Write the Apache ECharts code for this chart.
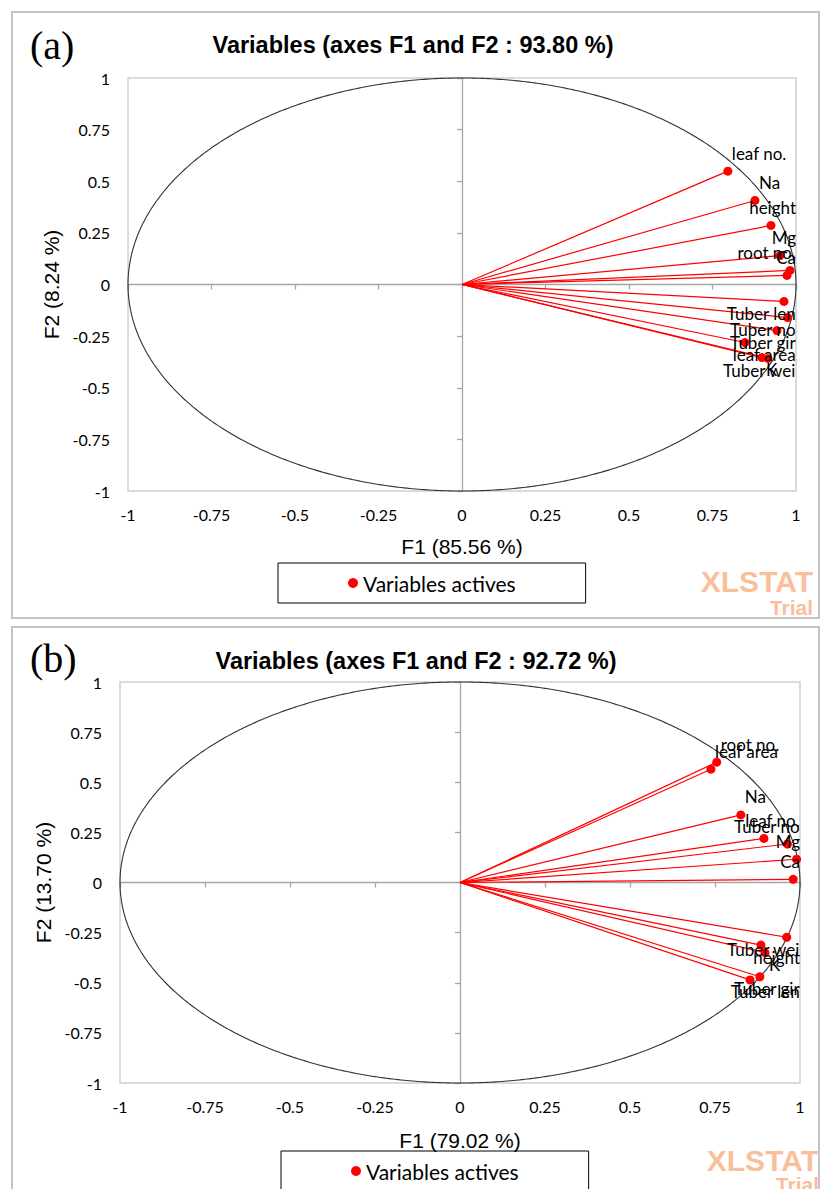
<!DOCTYPE html>
<html><head><meta charset="utf-8">
<script src="https://cdn.jsdelivr.net/npm/echarts@6/dist/echarts.min.js"></script>
<style>html,body{margin:0;padding:0;background:#fff}#c{width:820px;height:1189px}</style>
</head><body><div id="c"></div>
<script>
// ---- data ----
const varsA = ['leaf no.','Na','height','Mg','root no.','Ca','Tuber len','Tuber no','Tuber gir','leaf area','K','Tuber wei'];
const f1A = [0.796,0.877,0.925,0.952,0.982,0.973,0.964,0.975,0.943,0.847,0.898,0.916];
const f2A = [0.549,0.407,0.286,0.140,0.068,0.044,-0.082,-0.160,-0.223,-0.281,-0.354,-0.358];
const varsB = ['root no.','leaf area','Na','leaf no.','Tuber no','Mg','Ca','Tuber wei','height','K','Tuber gir','Tuber len'];
const f1B = [0.755,0.738,0.826,0.894,0.963,0.990,0.980,0.961,0.885,0.897,0.882,0.853];
const f2B = [0.600,0.565,0.337,0.220,0.192,0.116,0.016,-0.273,-0.312,-0.350,-0.470,-0.486];
const titles = ['Variables (axes F1 and F2 : 93.80 %)','Variables (axes F1 and F2 : 92.72 %)'];
const xNames = ['F1 (85.56 %)','F1 (79.02 %)'];
const yNames = ['F2 (8.24 %)','F2 (13.70 %)'];
const panelTags = ['(a)','(b)'];
const legendName = 'Variables actives';
const axisMin = -1, axisMax = 1, axisStep = 0.25;

// ---- layout ----
const panels = [
  {vars: varsA, f1: f1A, f2: f2A, grid: {left:128, top:78, width:668, height:413},
   xGap:55, yGap:73, titleX:413, titleY:45, tagY:45, legendLeft:278, legendTop:563,
   frame:{x:12,y:12,width:807,height:606}, wmX:813, wmY1:581, wmY2:607},
  {vars: varsB, f1: f1B, f2: f2B, grid: {left:120, top:682, width:680, height:401},
   xGap:57, yGap:70, titleX:416, titleY:661, tagY:658, legendLeft:281, legendTop:1151,
   frame:{x:12,y:627,width:807,height:580}, wmX:819, wmY1:1160, wmY2:1184}
];

const tickFont = {fontFamily:'Lato', fontSize:16, color:'#000'};
const option = {
  backgroundColor:'#fff',
  animation:false,
  grid:[], xAxis:[], yAxis:[], series:[], legend:[], graphic:[]
};

panels.forEach(function (P, i) {
  option.grid.push(Object.assign({show:true, borderColor:'#d0d0d0', borderWidth:1.5, backgroundColor:'#fff', outerBoundsMode:'none', containLabel:false}, P.grid));
  const common = {type:'value', gridIndex:i, min:axisMin, max:axisMax, interval:axisStep, splitLine:{show:false}};
  // primary axes (labels at plot edges)
  option.xAxis.push(Object.assign({}, common, {
    position:'bottom', axisLine:{show:false, onZero:false}, axisTick:{show:false},
    axisLabel:Object.assign({margin:15}, tickFont),
    name:xNames[i], nameLocation:'middle', nameGap:P.xGap,
    nameTextStyle:{fontFamily:'Liberation Sans', fontSize:21, color:'#000', verticalAlign:'middle'}
  }));
  option.yAxis.push(Object.assign({}, common, {
    position:'left', axisLine:{show:false, onZero:false}, axisTick:{show:false},
    axisLabel:Object.assign({margin:18}, tickFont),
    name:yNames[i], nameLocation:'middle', nameGap:P.yGap,
    nameTextStyle:{fontFamily:'Liberation Sans', fontSize:21, color:'#000', verticalAlign:'middle'}
  }));
  // zero axes through the origin
  option.xAxis.push(Object.assign({}, common, {
    axisLine:{show:true, onZero:true, lineStyle:{color:'#a6a6a6', width:1.3}},
    axisTick:{show:true, inside:true, length:5, lineStyle:{color:'#a6a6a6', width:1.3}},
    axisLabel:{show:false}
  }));
  option.yAxis.push(Object.assign({}, common, {
    axisLine:{show:true, onZero:true, lineStyle:{color:'#a6a6a6', width:1.3}},
    axisTick:{show:true, inside:true, length:5, lineStyle:{color:'#a6a6a6', width:1.3}},
    axisLabel:{show:false}
  }));
  const xi = 2*i, yi = 2*i;
  // correlation circle
  option.series.push({
    type:'custom', xAxisIndex:xi, yAxisIndex:yi, silent:true, z:1, data:[[0,0]],
    renderItem:function (params, api) {
      const pts = [];
      for (let k = 0; k <= 720; k++) {
        const t = k * Math.PI / 360;
        pts.push(api.coord([Math.cos(t), Math.sin(t)]));
      }
      return {type:'polyline', shape:{points:pts}, style:{stroke:'#333333', lineWidth:1.1, fill:null}};
    }
  });
  // vectors from origin
  option.series.push({
    type:'custom', xAxisIndex:xi, yAxisIndex:yi, silent:true, z:2,
    data:P.f1.map(function (x, k) { return [x, P.f2[k]]; }),
    renderItem:function (params, api) {
      const o = api.coord([0, 0]);
      const p = api.coord([api.value(0), api.value(1)]);
      return {type:'line', shape:{x1:o[0], y1:o[1], x2:p[0], y2:p[1]}, style:{stroke:'#ff0000', lineWidth:1.2}};
    }
  });
  // points with labels
  const right = P.grid.left + P.grid.width;
  option.series.push({
    type:'scatter', name:legendName, xAxisIndex:xi, yAxisIndex:yi, z:3,
    symbol:'circle', symbolSize:9, itemStyle:{color:'#ff0000', opacity:1},
    data:P.f1.map(function (x, k) { return [x, P.f2[k], P.vars[k]]; }),
    label:{show:true, position:'right', formatter:function (d) { return d.value[2]; },
           fontFamily:'Lato', fontSize:17, color:'#000'},
    labelLayout:function (p) {
      const cx = p.rect.x + p.rect.width / 2, cy = p.rect.y + p.rect.height / 2;
      const w = p.labelRect.width;
      let x = cx + 4;
      if (x + w > right) x = right - w;
      const y = P.f2[p.dataIndex] >= 0 ? cy - 18 : cy + 12;
      return {x:x, y:y, align:'left', verticalAlign:'middle'};
    }
  });
  option.legend.push({
    left:P.legendLeft, top:P.legendTop, data:[legendName], selectedMode:false,
    icon:'circle', itemWidth:10, itemHeight:10, itemGap:5,
    itemStyle:{color:'#ff0000', opacity:1},
    borderColor:'#000', borderWidth:1, borderRadius:0, padding:[9, 70],
    textStyle:{fontFamily:'Lato', fontSize:21, color:'#000', lineHeight:22}
  });
  option.graphic.push(
    {type:'rect', shape:P.frame, style:{fill:null, stroke:'#c4c4c4', lineWidth:2}, z:-10, silent:true},
    {type:'text', x:P.titleX, y:P.titleY, style:{text:titles[i], fontFamily:'Liberation Sans', fontWeight:'bold', fontSize:23.5, fill:'#000', align:'center', verticalAlign:'middle'}},
    {type:'text', x:30, y:P.tagY, style:{text:panelTags[i], fontFamily:'Liberation Serif', fontSize:40, fill:'#000', align:'left', verticalAlign:'middle'}},
    {type:'text', x:P.wmX, y:P.wmY1, style:{text:'XLSTAT', fontFamily:'Liberation Sans', fontWeight:'bold', fontSize:30, fill:'#f9bf9b', align:'right', verticalAlign:'middle'}},
    {type:'text', x:P.wmX, y:P.wmY2, style:{text:'Trial', fontFamily:'Liberation Sans', fontWeight:'bold', fontSize:21, fill:'#f9bf9b', align:'right', verticalAlign:'middle'}}
  );
});

const chart = echarts.init(document.getElementById('c'), null, {renderer:'svg', width:820, height:1189});
chart.setOption(option);
</script>
</body></html>
